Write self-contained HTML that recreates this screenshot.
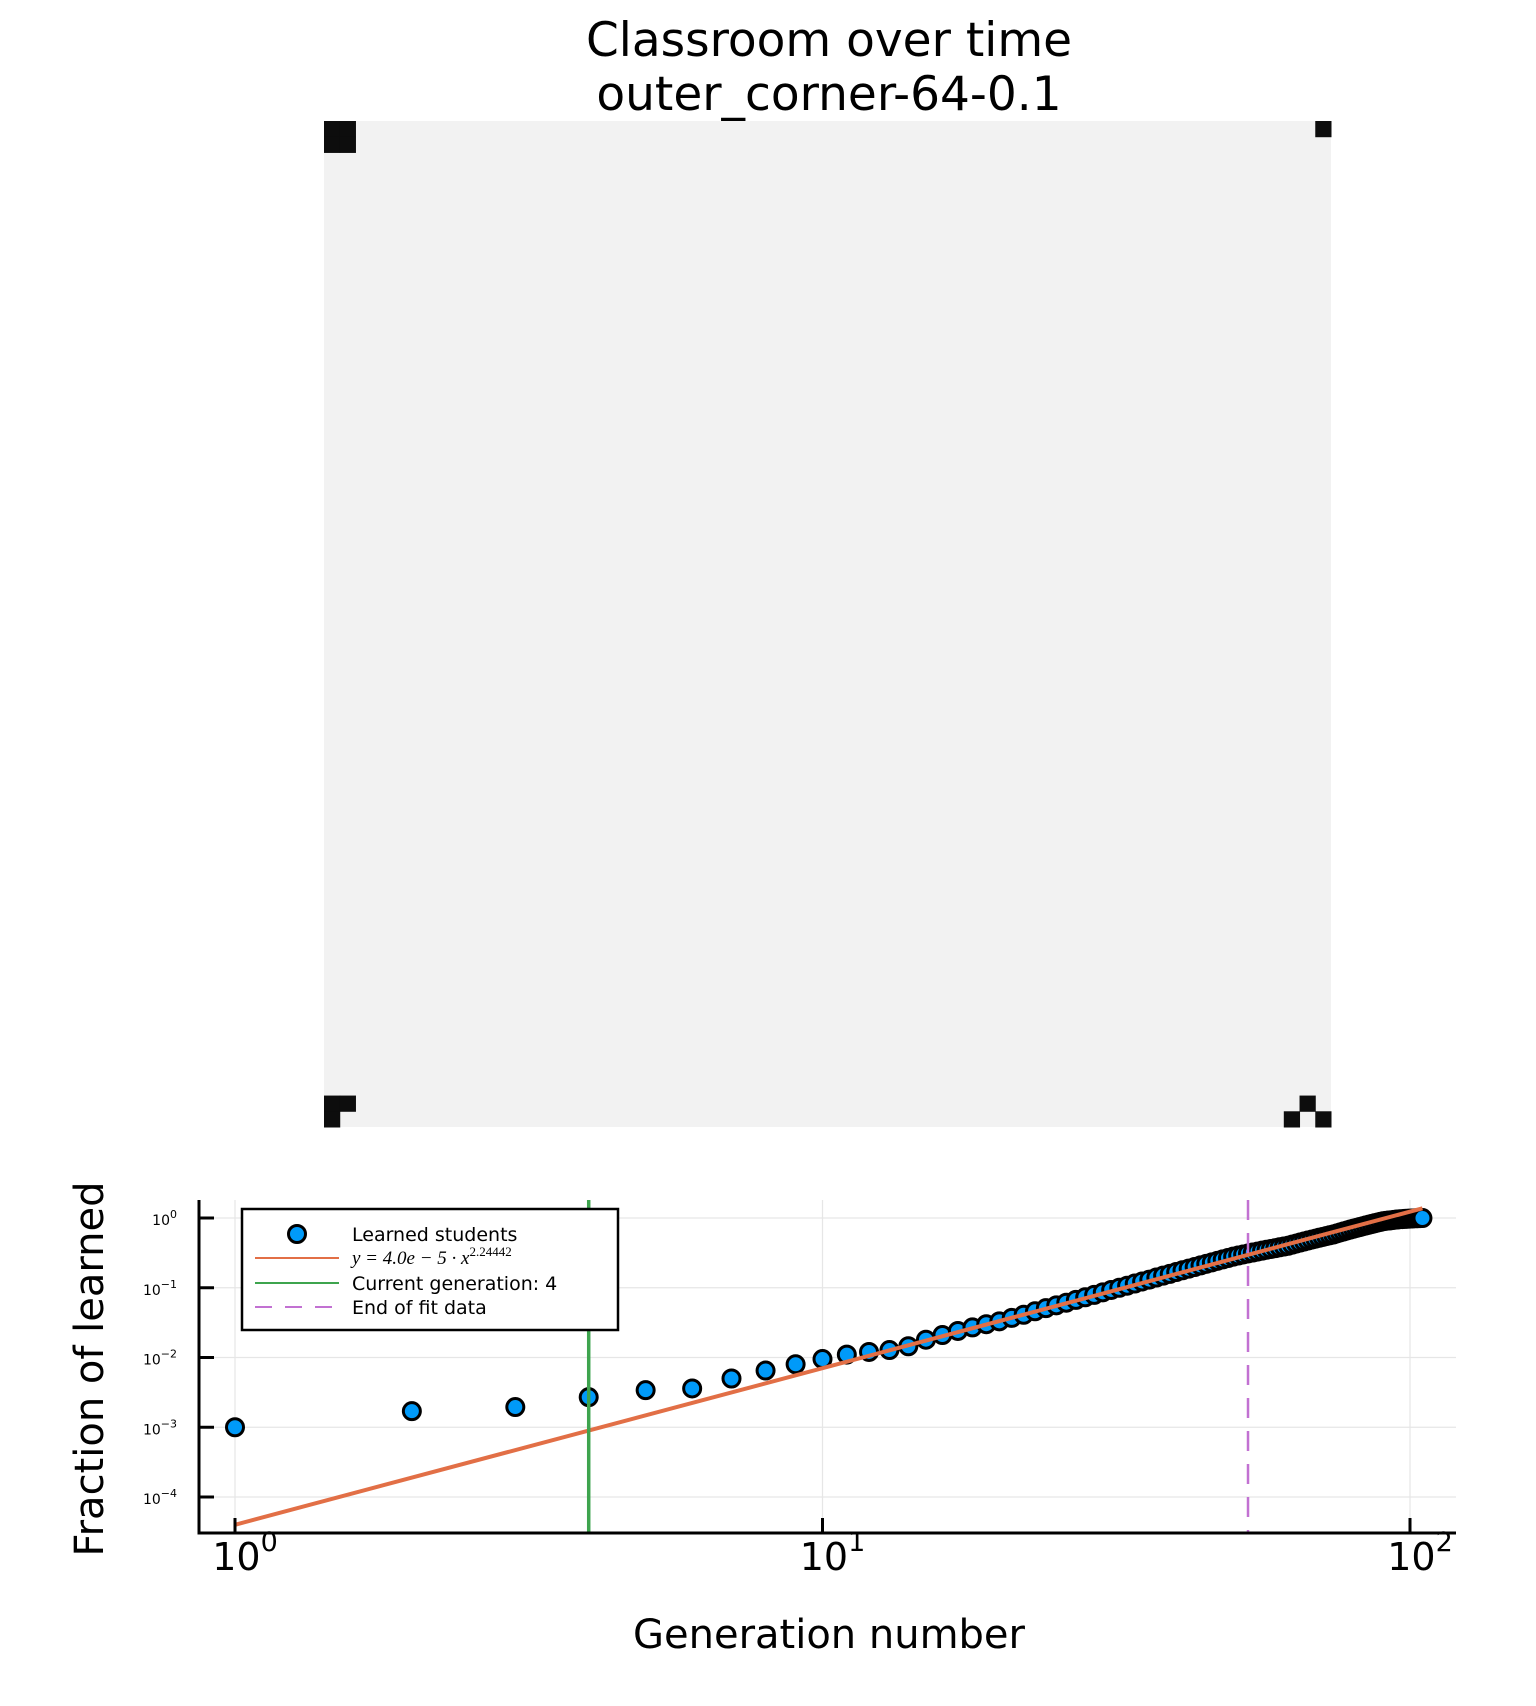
<!DOCTYPE html>
<html><head><meta charset="utf-8"><style>
html,body{margin:0;padding:0;background:#fff;}
svg{display:block;font-family:"DejaVu Sans","Liberation Sans",sans-serif;}
</style></head><body>
<svg id="fig" width="1536" height="1706" viewBox="0 0 1536 1706" xmlns="http://www.w3.org/2000/svg">
<rect width="1536" height="1706" fill="#fff"/>
<text x="829" y="56" font-size="47" text-anchor="middle" fill="#000">Classroom over time</text>
<text x="829" y="110" font-size="47" text-anchor="middle" fill="#000">outer_corner-64-0.1</text>
<g id="heat"></g>
<g id="plot"></g>
</svg>
<script>
const NS="http://www.w3.org/2000/svg";
// heatmap data: learned cells [col,row] in 64x64 grid
const gridSize=64;
const learnedCells=[[0,0],[1,0],[0,1],[1,1],[63,0],[0,62],[1,62],[0,63],[62,62],[61,63],[63,63]];
// scatter data
const generations=[];for(let i=1;i<=105;i++)generations.push(i);
const fractions=[0.001,0.0017,0.00195,0.0027,0.0034,0.0036,0.005,0.0065,0.008,0.0095,0.011,0.012,0.0128,0.0145,0.018,0.021,0.024,0.027,0.030,0.033,0.037,0.041,0.046,0.051,0.056,0.061,0.067,0.073,0.079,0.086,0.093,0.10,0.107,0.115,0.123,0.131,0.14,0.149,0.158,0.168,0.178,0.188,0.198,0.209,0.22,0.231,0.243,0.255,0.267,0.279,0.29,0.30,0.31,0.32,0.33,0.34,0.35,0.36,0.37,0.38,0.39,0.40,0.415,0.43,0.445,0.46,0.475,0.49,0.505,0.52,0.535,0.55,0.565,0.58,0.6,0.62,0.64,0.66,0.68,0.7,0.72,0.74,0.76,0.78,0.8,0.82,0.84,0.86,0.88,0.9,0.91,0.92,0.93,0.94,0.95,0.96,0.965,0.97,0.975,0.98,0.985,0.99,0.993,0.996,0.998];
const fitCoef=4.0e-5, fitExp=2.24442;
const fitRange=[1,105];
const currentGeneration=4;
const endOfFit=53;
const xTickExps=[0,1,2];
const yTickExps=[0,-1,-2,-3,-4];

function mk(tag,attrs,parent){const e=document.createElementNS(NS,tag);for(const k in attrs)e.setAttribute(k,attrs[k]);parent.appendChild(e);return e;}

// heatmap
const heat=document.getElementById('heat');
const hx0=324,hy0=121,hw=1007,hh=1006,cw=hw/gridSize,ch=hh/gridSize;
const bg=mk('rect',{x:hx0,y:hy0,width:hw,height:hh,fill:'#f2f2f2'},heat);


learnedCells.forEach(c=>{const r=mk('rect',{x:hx0+c[0]*cw,y:hy0+c[1]*ch,width:cw+0.5,height:ch+0.5,fill:'#0d0d0d'},heat);

});

// plot axes
const P=document.getElementById('plot');
const L=199,R=1456,T=1200,B=1533;
const x0=235,dec=587.5,y0=1218,ydec=69.75;
const X=v=>x0+Math.log10(v)*dec;
const Y=v=>y0-Math.log10(v)*ydec;
// grid
xTickExps.forEach(e=>{const g=mk('line',{x1:X(10**e),x2:X(10**e),y1:T,y2:B,stroke:'#e6e6e6','stroke-width':1.2},P);

});
yTickExps.forEach(e=>{const g=mk('line',{x1:L,x2:R,y1:Y(10**e),y2:Y(10**e),stroke:'#e6e6e6','stroke-width':1.2},P);

});
// points
generations.forEach((g,i)=>{const c=mk('circle',{cx:X(g),cy:Y(fractions[i]),r:8.5,fill:'#009af9',stroke:'#000','stroke-width':3},P);

});
// fit line
const fit=mk('line',{x1:X(fitRange[0]),y1:Y(fitCoef*fitRange[0]**fitExp),x2:X(fitRange[1]),y2:Y(fitCoef*fitRange[1]**fitExp),stroke:'#e26f46','stroke-width':4},P);


// current generation
const cg=mk('line',{x1:X(currentGeneration),x2:X(currentGeneration),y1:T,y2:B,stroke:'#3ea44e','stroke-width':3.5},P);


const ef=mk('line',{x1:X(endOfFit),x2:X(endOfFit),y1:T,y2:B,stroke:'#c271d2','stroke-width':2.5,'stroke-dasharray':'20 13'},P);


// axes
const ax=mk('path',{d:`M${L},${T} L${L},${B} L${R},${B}`,fill:'none',stroke:'#000','stroke-width':3},P);


xTickExps.forEach(e=>{const t=mk('line',{x1:X(10**e),x2:X(10**e),y1:B,y2:B-15,stroke:'#000','stroke-width':3},P);


const lb=mk('text',{x:X(10**e)+10,y:1570,'font-size':38,'text-anchor':'middle',fill:'#000'},P);


lb.textContent='10';const s=mk('tspan',{dy:-19,'font-size':27},lb);s.textContent=String(e);});
yTickExps.forEach(e=>{const t=mk('line',{x1:L,x2:L+15,y1:Y(10**e),y2:Y(10**e),stroke:'#000','stroke-width':3},P);


const lb=mk('text',{x:177,y:Y(10**e)+7,'font-size':14,'text-anchor':'end',fill:'#000'},P);


lb.textContent='10';const s=mk('tspan',{dy:-7,'font-size':11},lb);s.textContent=e===0?'0':'\u2212'+(-e);});
// axis titles
const xt=mk('text',{x:829,y:1648,'font-size':40,'text-anchor':'middle',fill:'#000'},P);


xt.textContent='Generation number';
const yt=mk('text',{x:0,y:0,'font-size':40,'text-anchor':'middle',fill:'#000',transform:'translate(103,1369) rotate(-90)'},P);


yt.textContent='Fraction of learned';
// legend
const lg=mk('g',{},P);


mk('rect',{x:242,y:1209,width:376,height:121,fill:'#fff',stroke:'#000','stroke-width':2.5},lg);
const ly=[1234,1258,1283,1307];
const lc=mk('circle',{cx:297,cy:ly[0],r:8.5,fill:'#009af9',stroke:'#000','stroke-width':3},lg);


[['#e26f46',null],['#3ea44e',null],['#c271d2','17 13']].forEach((s,i)=>{const a={x1:255,x2:339,y1:ly[i+1],y2:ly[i+1],stroke:s[0],'stroke-width':2};if(s[1])a['stroke-dasharray']=s[1];const l=mk('line',a,lg);

});
const labels=['Learned students',null,'Current generation: 4','End of fit data'];
labels.forEach((t,i)=>{if(!t)return;const tx=mk('text',{x:352,y:ly[i]+7,'font-size':19,fill:'#000'},lg);


tx.textContent=t;});
const fm=mk('text',{x:352,y:ly[1]+6,'font-size':19,fill:'#000','font-family':'Liberation Serif, serif','font-style':'italic'},lg);


fm.textContent='y = 4.0e \u2212 5 \u00b7 x';
const sp=mk('tspan',{dy:-8,'font-size':13,'font-style':'normal'},fm);sp.textContent='2.24442';
</script>
</body></html>
